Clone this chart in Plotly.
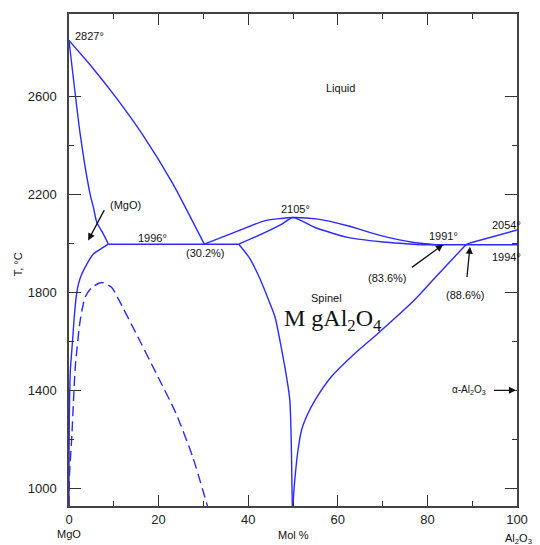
import plotly.graph_objects as go

# MgO - Al2O3 phase diagram (temperature in deg C vs. mol % Al2O3)

# Liquidus on the MgO side, from the MgO melting point to the eutectic
mgo_liq_x = [0, 5.1, 10.6, 16.5, 23.1, 30.2]
mgo_liq_t = [2827, 2719, 2592, 2441, 2245, 1996]

# Solidus of the MgO solid solution
mgo_sol_x = [0, 2.5, 4.7, 5.45, 6.2, 7.5, 8.8]
mgo_sol_t = [2827, 2445, 2201, 2146, 2085, 2043, 1996]

# Eutectic isotherm at 1996
eut1_x = [8.8, 37.9]
eut1_t = [1996, 1996]

# Spinel liquidus (congruent maximum at 50 %, 2105)
sp_liq_x = [30.2, 37.9, 43.8, 50.0, 55.6, 62.2, 69.6, 77.0, 83.6]
sp_liq_t = [1996, 2051, 2092, 2105, 2098, 2071, 2031, 2003, 1991]

# Spinel solidus
sp_sol_x = [37.9, 43.8, 47.5, 50.0, 54.9, 62.2, 69.6, 78.5]
sp_sol_t = [1996, 2044, 2078, 2105, 2064, 2024, 2006, 1994]

# Eutectic isotherm on the Al2O3 side
eut2_x = [78.5, 100]
eut2_t = [1994, 1994]

# Al2O3 liquidus up to the melting point of corundum
al_liq_x = [88.6, 89.7, 100]
al_liq_t = [1994, 2002, 2054]

# Spinel solvus, MgO-rich side
sp_left_x = [37.9, 40.2, 42.5, 44.6, 46.0, 47.5, 48.6, 49.3, 49.6, 49.75, 49.85]
sp_left_t = [1996, 1942, 1860, 1766, 1698, 1563, 1450, 1359, 1200, 1034, 928]

# Spinel solvus, Al2O3-rich side
sp_right_x = [50.0, 50.2, 50.4, 51.0, 51.9, 53.2, 54.9, 58.5, 63.5, 68.9, 77.0, 83.0, 88.6]
sp_right_t = [928, 990, 1034, 1140, 1237, 1300, 1359, 1454, 1545, 1631, 1766, 1885, 1994]

# MgO solvus
mgo_solv_x = [8.8, 7.65, 5.44, 3.98, 2.88, 2.12, 1.6, 1.17, 0.8, 0.3, 0.07, 0, 0]
mgo_solv_t = [1996, 1983, 1956, 1915, 1875, 1834, 1780, 1698, 1603, 1481, 1278, 1074, 928]

# Metastable miscibility gap (dashed)
gap_x = [0, 0.1, 0.66, 1.4, 2.5, 3.6, 5.1, 7.3, 9.5, 11, 15, 19.5, 23.9, 27.6, 30.9]
gap_t = [928, 1050, 1224, 1495, 1685, 1780, 1820, 1840, 1820, 1773, 1631, 1468, 1305, 1129, 928]

y_major = [1000, 1400, 1800, 2200, 2600]
y_minor = [1200, 1600, 2000, 2400]
x_major = [0, 20, 40, 60, 80, 100]
x_minor = [10, 30, 50, 70, 90]

BLUE = "#2a2aff"
FONT = "Liberation Sans, Arial, sans-serif"

fig = go.Figure()

curves = [
    (mgo_liq_x, mgo_liq_t, "spline"),
    (mgo_sol_x, mgo_sol_t, "spline"),
    (eut1_x, eut1_t, "linear"),
    (sp_liq_x, sp_liq_t, "spline"),
    (sp_sol_x, sp_sol_t, "spline"),
    (eut2_x, eut2_t, "linear"),
    (al_liq_x, al_liq_t, "linear"),
    (sp_left_x, sp_left_t, "spline"),
    (sp_right_x, sp_right_t, "spline"),
    (mgo_solv_x, mgo_solv_t, "spline"),
]
for xs, ts, shape in curves:
    fig.add_trace(go.Scatter(x=xs, y=ts, mode="lines",
                             line=dict(color=BLUE, width=1.4, shape=shape, smoothing=0.6),
                             showlegend=False, hoverinfo="skip"))

fig.add_trace(go.Scatter(x=gap_x, y=gap_t, mode="lines",
                         line=dict(color=BLUE, width=1.4, dash="10px,5px", shape="spline", smoothing=0.6),
                         showlegend=False, hoverinfo="skip"))


def label(x, y, text, size=11, xanchor="center", family=FONT):
    fig.add_annotation(x=x, y=y, text=text, showarrow=False, xanchor=xanchor,
                       yanchor="middle", font=dict(family=family, size=size, color="#111"))


def caption(x, y, text, angle=0):
    fig.add_annotation(x=x, y=y, xref="paper", yref="paper", text=text, showarrow=False,
                       textangle=angle, xanchor="center", yanchor="middle",
                       font=dict(family=FONT, size=11, color="#111"))


def arrow(x0, y0, x1, y1):
    fig.add_annotation(x=x1, y=y1, ax=x0, ay=y0, axref="x", ayref="y", text="",
                       showarrow=True, arrowhead=2, arrowsize=1.1, arrowwidth=1.3,
                       arrowcolor="#111")


label(0.9, 2844, "2827°", xanchor="left")
label(60.7, 2633, "Liquid")
label(12.7, 2157, "(MgO)")
label(18.7, 2022, "1996°")
label(30.4, 1961, "(30.2%)")
label(50.5, 2141, "2105°")
label(83.7, 2031, "1991°")
label(93.9, 2075, "2054°", xanchor="left")
label(93.9, 1945, "1994°", xanchor="left")
label(71.1, 1860, "(83.6%)")
label(88.6, 1787, "(88.6%)")
label(57.4, 1775, "Spinel")
label(58.9, 1688, "M gAl<sub>2</sub>O<sub>4</sub>", size=24,
      family="Liberation Serif, Times New Roman, serif")
label(93.6, 1400, "α-Al<sub>2</sub>O<sub>3</sub>", size=10, xanchor="right")

arrow(8.05, 2141, 4.27, 2011)
arrow(76.2, 1897, 83.5, 1994)
arrow(88.8, 1856, 89.5, 1986)
arrow(94.5, 1400, 99.8, 1400)

# Axis captions
caption(0.0, -0.057, "MgO")
caption(0.50, -0.059, "Mol %")
caption(1.003, -0.067, "Al<sub>2</sub>O<sub>3</sub>")
caption(-0.112, 0.491, "T, °C", angle=-90)

axis_common = dict(showgrid=False, zeroline=False, showline=True, linecolor="#444",
                   linewidth=1.5, mirror="ticks", ticks="inside", tickcolor="#333",
                   tickwidth=1.2, tickfont=dict(family=FONT, size=13, color="#222"))

fig.update_xaxes(range=[0, 100], tickmode="array", tickvals=x_major, ticklen=11,
                 minor=dict(tickmode="array", tickvals=x_minor, ticklen=5, ticks="inside",
                            tickcolor="#333", tickwidth=1.2),
                 ticklabelstandoff=1, **axis_common)
fig.update_yaxes(range=[928, 2935], tickmode="array", tickvals=y_major, ticklen=12,
                 minor=dict(tickmode="array", tickvals=y_minor, ticklen=5, ticks="inside",
                            tickcolor="#333", tickwidth=1.2),
                 ticklabelstandoff=8, **axis_common)

fig.update_layout(width=540, height=545, margin=dict(l=69, r=19, t=13, b=39),
                  plot_bgcolor="white", paper_bgcolor="white")

fig.write_html("out.html")
